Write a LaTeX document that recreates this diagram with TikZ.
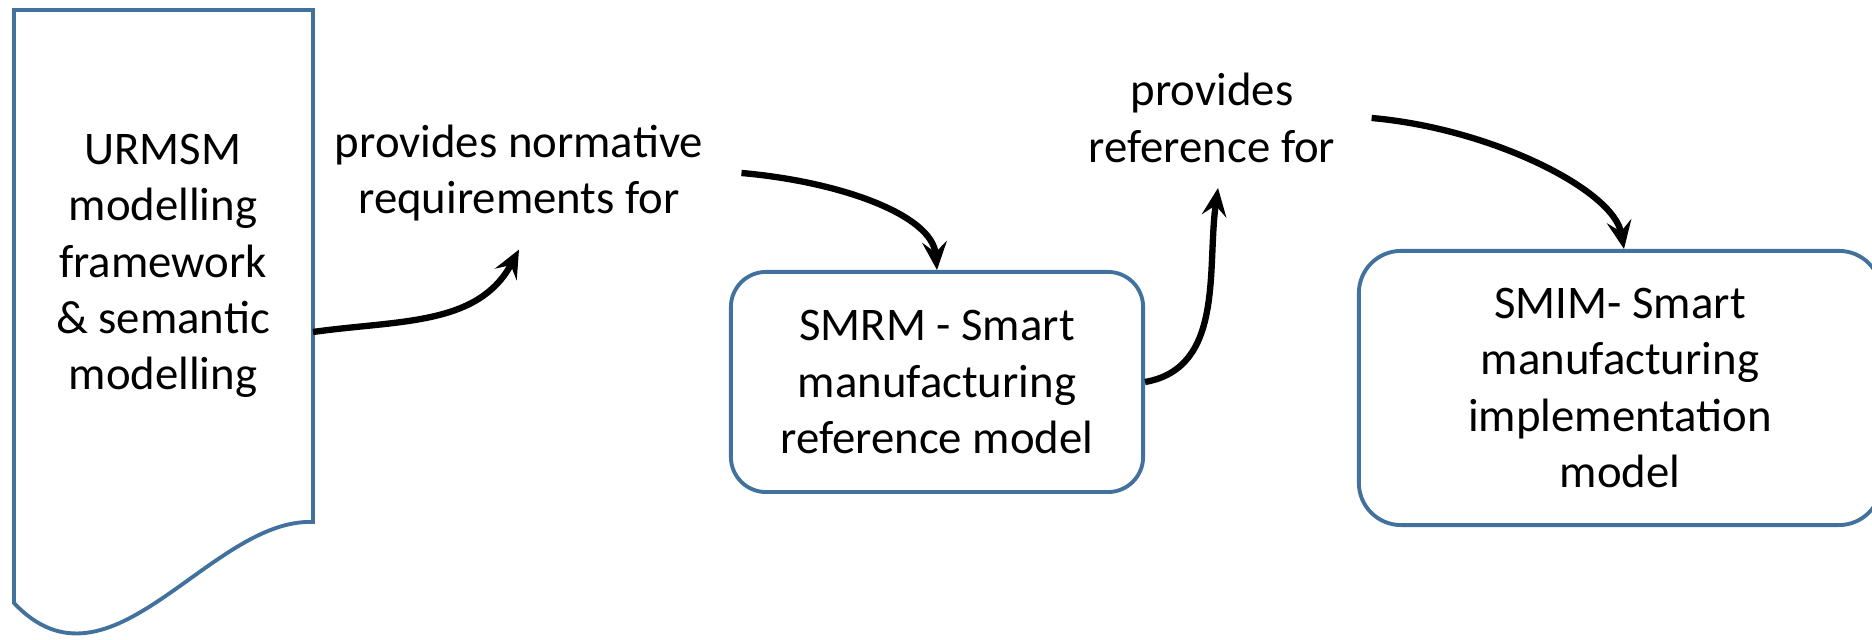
\documentclass[tikz,border=0pt]{standalone}
\usepackage{fontspec}
\setmainfont{Carlito}
\usetikzlibrary{arrows.meta, positioning}

\definecolor{boxblue}{RGB}{65,113,156}
\tikzset{
  modelbox/.style={draw=boxblue, line width=1.1pt, rounded corners=10pt, align=center, font=\fontsize{13.3}{16}\selectfont},
  relation/.style={align=center, font=\fontsize{13.3}{16}\selectfont},
  flow/.style={line width=1.8pt, -{Stealth[length=8pt,width=7pt,inset=3pt]}},
}

\begin{document}
\begin{tikzpicture}[x=0.01cm,y=0.01cm]
      \useasboundingbox (0,0) rectangle (1872,640);
      % framework sheet with wavy bottom
      \draw[boxblue, line width=1.1pt] (14,630) -- (313,630) -- (313,118) .. controls (210,122) and (110,-65) .. (14,37) -- cycle;
      \node[relation] (urmsm) at (163,374) {URMSM\\modelling\\framework\\\& semantic\\modelling};
      \coordinate (docout) at (313,308);
      \node[modelbox, minimum width=4.12cm, minimum height=2.2cm] (smrm) at (937,258) {SMRM - Smart\\manufacturing\\reference model};
      \node[modelbox, rounded corners=12pt, minimum width=5.22cm, minimum height=2.74cm] (smim) at (1620,252) {SMIM- Smart\\manufacturing\\implementation\\model};
      \node[relation] (needs) at (519,467) {provides normative\\requirements for};
      \node[relation] (refs) at (1212,522) {provides\\reference for};
      % relations
      \draw[flow] (docout) to[out=8,in=-118] ([yshift=-0.16cm]needs.south);
      \draw[flow] ([xshift=0.26cm]needs.east) to[out=-5,in=95,out distance=1cm,in distance=0.55cm] (smrm.north);
      \draw[flow] (smrm.east) to[out=10,in=-98] ([xshift=0.06cm,yshift=-0.13cm]refs.south);
      \draw[flow] ([xshift=0.24cm]refs.east) to[out=-5,in=100,out distance=1.2cm,in distance=0.6cm] ([xshift=0.04cm]smim.north);
\end{tikzpicture}
\end{document}
